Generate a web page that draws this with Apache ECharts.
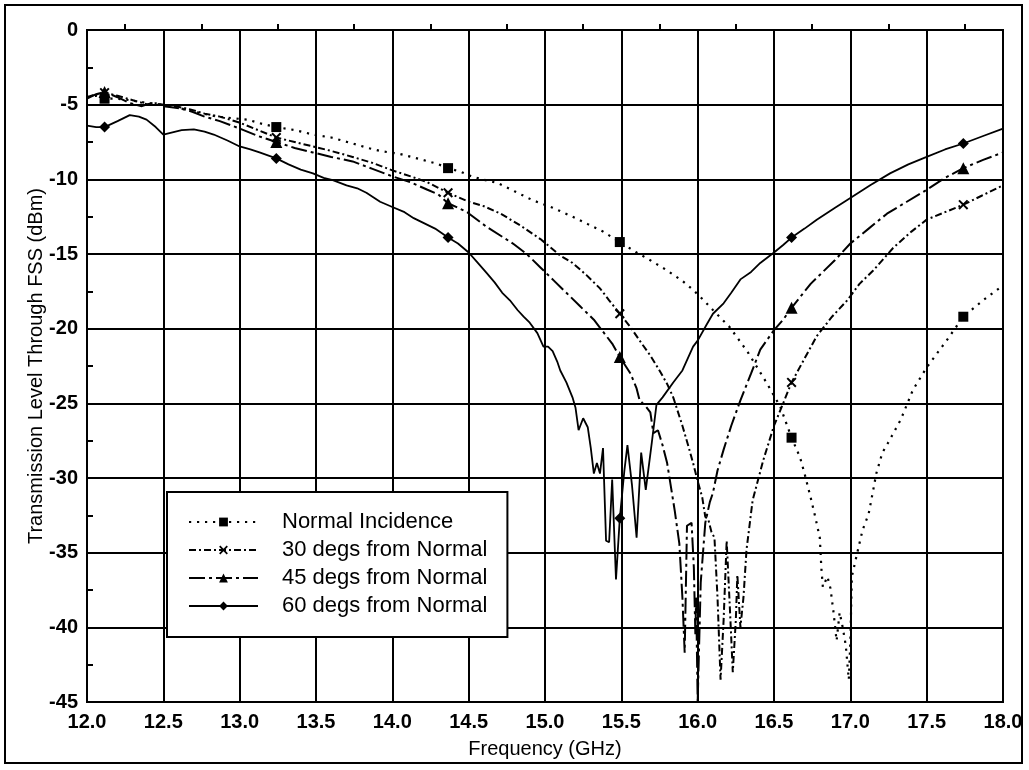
<!DOCTYPE html>
<html>
<head>
<meta charset="utf-8">
<title>Transmission Level Through FSS</title>
<script src="https://cdn.jsdelivr.net/npm/echarts@6/dist/echarts.min.js"></script>
<style>
  html, body { margin: 0; padding: 0; background: #fff; }
  #chart { width: 1029px; height: 770px; }
</style>
</head>
<body>
<div id="chart"></div>
<script>
// Series names shown in the legend
const seriesNames = ['Normal Incidence', '30 degs from Normal', '45 degs from Normal', '60 degs from Normal'];

// Frequencies (GHz) at which each trace carries its marker symbol
const markerFreqs = [12.115, 13.24, 14.365, 15.49, 16.615, 17.74];

// Measured transmission [frequency GHz, level dBm]
const normalIncidence = [
  [12.0,-4.5],[12.06,-4.4],[12.115,-4.6],[12.2,-4.6],[12.28,-4.7],[12.4,-4.9],[12.5,-5.0],[12.6,-5.2],
  [12.67,-5.4],[12.76,-5.6],[12.85,-5.8],[12.95,-5.9],[13.05,-6.0],[13.15,-6.3],[13.24,-6.5],[13.36,-6.7],
  [13.48,-7.0],[13.6,-7.2],[13.74,-7.6],[13.84,-7.9],[13.92,-8.1],[14.05,-8.3],[14.2,-8.7],[14.29,-8.95],
  [14.365,-9.25],[14.45,-9.5],[14.53,-9.85],[14.69,-10.25],[14.8,-10.8],[14.92,-11.4],[15.05,-11.9],
  [15.18,-12.5],[15.28,-13.0],[15.38,-13.5],[15.49,-14.2],[15.6,-14.9],[15.67,-15.3],[15.8,-16.1],
  [15.9,-16.8],[15.97,-17.4],[16.04,-18.1],[16.1,-18.75],[16.21,-19.9],[16.33,-21.6],[16.45,-23.6],
  [16.54,-25.2],[16.615,-27.3],[16.67,-28.6],[16.7,-29.7],[16.74,-31.3],[16.77,-32.6],[16.8,-34.0],
  [16.81,-36.0],[16.82,-37.3],[16.85,-36.6],[16.87,-37.4],[16.89,-39.0],[16.91,-40.9],[16.93,-39.0],
  [16.95,-40.0],[16.97,-41.2],[16.99,-43.5],[17.0,-41.0],[17.01,-36.6],[17.05,-34.8],[17.08,-33.5],
  [17.12,-32.4],[17.15,-30.8],[17.17,-29.7],[17.21,-28.3],[17.25,-27.6],[17.33,-26.1],[17.41,-24.1],
  [17.5,-22.6],[17.63,-20.8],[17.74,-19.2],[17.87,-18.1],[18.0,-17.1]
];

const deg30 = [
  [12.0,-4.5],[12.06,-4.3],[12.115,-4.2],[12.2,-4.4],[12.3,-4.7],[12.4,-5.0],[12.45,-4.9],[12.5,-5.0],
  [12.58,-5.1],[12.67,-5.3],[12.77,-5.6],[12.87,-5.8],[13.0,-6.2],[13.12,-6.7],[13.24,-7.2],[13.36,-7.5],
  [13.48,-7.8],[13.6,-8.1],[13.74,-8.5],[13.87,-8.9],[14.0,-9.4],[14.12,-9.8],[14.23,-10.2],[14.365,-10.9],
  [14.5,-11.5],[14.6,-11.8],[14.71,-12.3],[14.84,-13.1],[14.97,-14.0],[15.1,-15.1],[15.18,-15.6],
  [15.27,-16.4],[15.36,-17.3],[15.42,-18.1],[15.49,-19.0],[15.56,-19.9],[15.62,-20.8],[15.69,-21.8],
  [15.75,-22.8],[15.8,-23.7],[15.84,-24.6],[15.9,-26.5],[15.94,-27.9],[15.97,-29.0],[16.0,-30.2],
  [16.03,-31.3],[16.05,-32.6],[16.07,-32.8],[16.09,-33.6],[16.11,-34.0],[16.13,-38.0],[16.15,-43.5],
  [16.17,-39.5],[16.19,-34.2],[16.21,-38.5],[16.23,-43.0],[16.25,-39.5],[16.26,-36.5],[16.28,-40.0],
  [16.3,-38.0],[16.32,-34.8],[16.36,-31.5],[16.43,-28.8],[16.5,-26.5],[16.56,-25.0],[16.615,-23.6],
  [16.7,-22.0],[16.78,-20.5],[16.88,-19.2],[16.98,-18.1],[17.06,-17.0],[17.15,-16.1],[17.28,-14.6],
  [17.4,-13.5],[17.5,-12.7],[17.62,-12.2],[17.74,-11.7],[17.86,-11.1],[18.0,-10.4]
];

const deg45 = [
  [12.0,-4.6],[12.06,-4.3],[12.115,-4.15],[12.2,-4.5],[12.28,-4.9],[12.36,-5.1],[12.42,-4.9],[12.5,-5.1],
  [12.58,-5.2],[12.67,-5.4],[12.77,-5.8],[12.87,-6.1],[13.0,-6.6],[13.12,-7.1],[13.24,-7.5],[13.36,-7.9],
  [13.48,-8.2],[13.6,-8.5],[13.74,-8.8],[13.87,-9.3],[14.0,-9.8],[14.12,-10.2],[14.23,-10.7],[14.3,-11.0],
  [14.365,-11.6],[14.43,-11.9],[14.49,-12.2],[14.62,-13.2],[14.79,-14.3],[14.88,-15.0],[14.97,-15.9],
  [15.06,-16.8],[15.14,-17.6],[15.23,-18.5],[15.32,-19.4],[15.38,-20.2],[15.44,-21.0],[15.49,-21.9],
  [15.56,-23.0],[15.6,-24.0],[15.62,-24.8],[15.66,-25.2],[15.69,-25.6],[15.71,-27.0],[15.74,-26.8],
  [15.77,-27.8],[15.8,-29.0],[15.85,-32.2],[15.88,-34.4],[15.9,-38.0],[15.915,-41.7],[15.93,-33.2],
  [15.96,-33.0],[15.975,-36.0],[15.985,-40.5],[15.99,-38.0],[16.0,-45.0],[16.02,-37.0],[16.05,-33.0],
  [16.08,-31.6],[16.1,-31.0],[16.13,-29.5],[16.17,-28.1],[16.22,-26.5],[16.28,-24.8],[16.35,-23.0],
  [16.41,-21.4],[16.5,-20.1],[16.56,-19.4],[16.615,-18.6],[16.74,-17.0],[16.82,-16.2],[16.9,-15.4],
  [17.0,-14.3],[17.12,-13.3],[17.24,-12.3],[17.37,-11.5],[17.5,-10.7],[17.62,-9.9],[17.74,-9.25],
  [17.87,-8.7],[18.0,-8.2]
];

const deg60 = [
  [12.0,-6.4],[12.06,-6.5],[12.115,-6.5],[12.2,-6.1],[12.28,-5.7],[12.34,-5.8],[12.39,-6.0],[12.45,-6.5],
  [12.5,-7.0],[12.56,-6.85],[12.62,-6.7],[12.7,-6.65],[12.77,-6.8],[12.83,-7.0],[12.92,-7.4],[13.0,-7.8],
  [13.07,-8.0],[13.13,-8.2],[13.24,-8.6],[13.32,-9.0],[13.4,-9.35],[13.48,-9.6],[13.55,-9.9],[13.61,-10.05],
  [13.7,-10.4],[13.77,-10.6],[13.83,-10.9],[13.92,-11.5],[14.0,-11.85],[14.08,-12.2],[14.14,-12.6],
  [14.2,-12.9],[14.28,-13.3],[14.365,-13.9],[14.43,-14.3],[14.5,-14.9],[14.56,-15.6],[14.62,-16.3],
  [14.67,-16.9],[14.72,-17.6],[14.77,-18.1],[14.82,-18.75],[14.86,-19.2],[14.9,-19.6],[14.95,-20.3],
  [14.99,-21.2],[15.02,-21.2],[15.05,-21.5],[15.08,-22.2],[15.1,-22.8],[15.14,-23.6],[15.18,-24.6],
  [15.2,-25.3],[15.22,-26.8],[15.25,-26.0],[15.28,-26.6],[15.3,-28.0],[15.32,-29.7],[15.34,-29.0],
  [15.36,-29.7],[15.38,-28.0],[15.4,-34.2],[15.42,-34.3],[15.44,-30.1],[15.465,-36.8],[15.49,-32.7],
  [15.52,-29.5],[15.54,-27.8],[15.57,-30.5],[15.6,-34.0],[15.63,-28.3],[15.66,-30.8],[15.7,-27.6],
  [15.73,-25.1],[15.77,-24.6],[15.84,-23.6],[15.9,-22.8],[15.97,-21.2],[16.0,-20.8],[16.06,-19.7],
  [16.1,-19.0],[16.17,-18.3],[16.22,-17.6],[16.28,-16.7],[16.35,-16.2],[16.41,-15.6],[16.5,-14.9],
  [16.56,-14.4],[16.615,-13.9],[16.7,-13.3],[16.78,-12.7],[16.9,-11.9],[17.0,-11.25],[17.13,-10.4],
  [17.26,-9.6],[17.38,-9.0],[17.5,-8.5],[17.62,-8.0],[17.74,-7.6],[17.87,-7.1],[18.0,-6.6]
];

// Filled "x" glyph for the 30 degree trace
const crossSymbol = 'path://M0,1.4L1.4,0L5,3.6L8.6,0L10,1.4L6.4,5L10,8.6L8.6,10L5,6.4L1.4,10L0,8.6L3.6,5Z';

const FONT = '"Liberation Sans", Arial, Helvetica, sans-serif';
const black = '#000';

function trace(name, data, symbol, dash, width, size) {
  return {
    name: name,
    type: 'line',
    data: data,
    symbol: symbol,
    symbolSize: function (v) { return markerFreqs.indexOf(v[0]) >= 0 ? size : 0; },
    showSymbol: true,
    showAllSymbol: true,
    smooth: false,
    lineStyle: { color: black, width: width, type: dash, cap: 'butt' },
    itemStyle: { color: black, borderWidth: 0 },
    emphasis: { disabled: true },
    z: 3
  };
}

const axisLineStyle = { color: black, width: 2 };

const option = {
  animation: false,
  backgroundColor: '#fff',
  textStyle: { fontFamily: FONT, color: black },
  graphic: [{
    type: 'rect',
    silent: true,
    shape: { x: 5, y: 5, width: 1017, height: 758 },
    style: { fill: 'none', stroke: black, lineWidth: 2 }
  }],
  grid: {
    left: 87, right: 26, top: 30, bottom: 68,
    show: true, borderColor: black, borderWidth: 2, backgroundColor: '#fff'
  },
  legend: {
    orient: 'vertical',
    left: 167, top: 492,
    padding: [19, 20, 20, 21],
    itemWidth: 69, itemHeight: 11, itemGap: 6,
    backgroundColor: '#fff',
    borderColor: black, borderWidth: 2, borderRadius: 0,
    textStyle: { fontFamily: FONT, fontSize: 22, color: black, lineHeight: 22, padding: [0, 0, 0, 19] },
    data: seriesNames
  },
  xAxis: {
    type: 'value', min: 12, max: 18, interval: 0.5,
    name: 'Frequency (GHz)', nameLocation: 'middle', nameGap: 37, nameMoveOverlap: false,
    nameTextStyle: { fontFamily: FONT, fontSize: 20, color: black },
    axisLine: { show: true, lineStyle: axisLineStyle },
    axisTick: { show: false, inside: true },
    minorTick: { show: true, splitNumber: 2, length: 6, lineStyle: axisLineStyle },
    axisLabel: { fontFamily: FONT, fontSize: 20, fontWeight: 'bold', color: black, margin: 10,
                 formatter: function (v) { return v.toFixed(1); } },
    splitLine: { show: true, lineStyle: axisLineStyle }
  },
  yAxis: {
    type: 'value', min: -45, max: 0, interval: 5,
    name: 'Transmission Level Through FSS (dBm)', nameLocation: 'middle', nameGap: 41, nameRotate: 90,
    nameMoveOverlap: false,
    nameTextStyle: { fontFamily: FONT, fontSize: 20, color: black },
    axisLine: { show: true, lineStyle: axisLineStyle },
    axisTick: { show: false, inside: true },
    minorTick: { show: true, splitNumber: 2, length: 6, lineStyle: axisLineStyle },
    axisLabel: { fontFamily: FONT, fontSize: 20, fontWeight: 'bold', color: black, margin: 9 },
    splitLine: { show: true, lineStyle: axisLineStyle }
  },
  series: [
    trace(seriesNames[0], normalIncidence, 'rect', [2.2, 5.8], 2.2, 10),
    trace(seriesNames[1], deg30, crossSymbol, [7, 3, 2, 3], 2, 10),
    trace(seriesNames[2], deg45, 'triangle', [16, 4, 3, 4], 2, 12),
    trace(seriesNames[3], deg60, 'diamond', 'solid', 1.8, 11)
  ]
};

const chart = echarts.init(document.getElementById('chart'), null, { renderer: 'canvas' });
chart.setOption(option);
</script>
</body>
</html>
